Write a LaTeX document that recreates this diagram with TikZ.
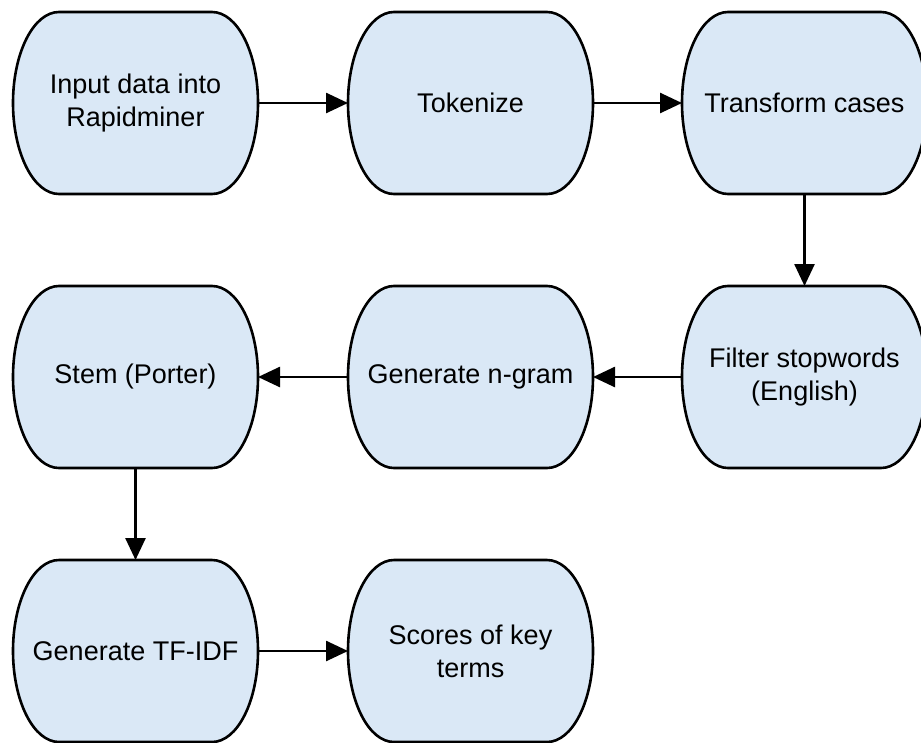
\documentclass[tikz,border=0pt]{standalone}
\usepackage{fontspec}
\setmainfont{Liberation Sans}
\usetikzlibrary{arrows.meta,positioning,backgrounds}
\definecolor{boxfill}{RGB}{218,232,246}
\begin{document}
\begin{tikzpicture}[x=1pt,y=-1pt,
stepbox/.style={align=center,minimum width=245pt,minimum height=182pt,inner sep=0pt,outer sep=0pt,font=\fontsize{27}{33}\selectfont},
boxline/.style={draw=black,line width=2.6pt,fill=boxfill},
arr/.style={-{Triangle[length=22pt,width=20pt]},line width=2.6pt}]
\useasboundingbox (0,0) rectangle (921,742);
\node[stepbox](input) at (135.5,103){Input data into\\Rapidminer};
\node[stepbox,right=90pt of input](token){Tokenize};
\node[stepbox,right=89pt of token](trans){Transform cases};
\node[stepbox,below=92pt of trans](filter){Filter stopwords\\(English)};
\node[stepbox,left=89pt of filter](ngram){Generate n-gram};
\node[stepbox,left=90pt of ngram](stem){Stem (Porter)};
\node[stepbox,below=92pt of stem](tfidf){Generate TF-IDF};
\node[stepbox,right=90pt of tfidf](scores){Scores of key\\terms};
\begin{scope}[on background layer]
\foreach \n in {input,token,trans,filter,ngram,stem,tfidf,scores}
\draw[boxline]([xshift=46pt]\n.north west)--([xshift=-46pt]\n.north east)
 arc[start angle=90,end angle=-90,x radius=46pt,y radius=91pt]
 --([xshift=46pt]\n.south west)
 arc[start angle=270,end angle=90,x radius=46pt,y radius=91pt]--cycle;
\end{scope}
\draw[arr](input)--(token);\draw[arr](token)--(trans);
\draw[arr](trans)--(filter);\draw[arr](filter)--(ngram);\draw[arr](ngram)--(stem);
\draw[arr](stem)--(tfidf);\draw[arr](tfidf)--(scores);
\end{tikzpicture}
\end{document}
